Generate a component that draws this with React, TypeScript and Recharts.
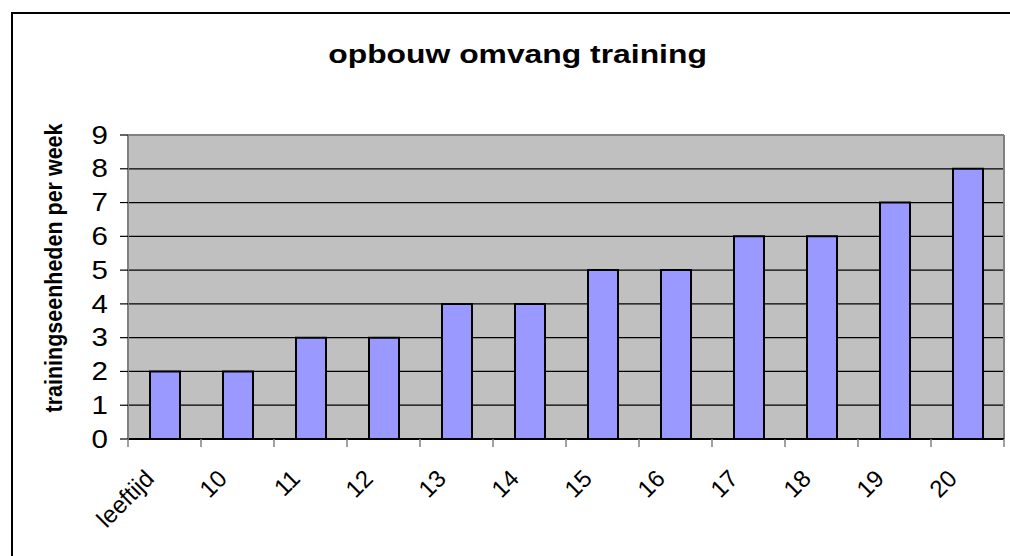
import { BarChart, Bar, XAxis, YAxis, CartesianGrid } from 'recharts';

const categories = ['leeftijd', '10', '11', '12', '13', '14', '15', '16', '17', '18', '19', '20'];
const trainingUnits = [2, 2, 3, 3, 4, 4, 5, 5, 6, 6, 7, 8];
const yTicks = [0, 1, 2, 3, 4, 5, 6, 7, 8, 9];

const data = categories.map((name, i) => ({ name, value: trainingUnits[i] }));

const W = 1010;
const H = 556;
const margin = { top: 135, right: 6, bottom: 0, left: 0 };
const xAxisHeight = 117;
const yAxisWidth = 128;
const band = (W - margin.left - margin.right - yAxisWidth) / categories.length;
const font = '"Liberation Sans", Arial, sans-serif';

function XTick(props: any) {
  const { x, y, payload, index } = props;
  const tx = x - 9;
  const ty = y + 41;
  const last = index === categories.length - 1;
  return (
    <g>
      <line x1={x - band / 2} y1={y} x2={x - band / 2} y2={y + 8} stroke="#808080" strokeWidth={1.5} />
      {last && <line x1={x + band / 2} y1={y} x2={x + band / 2} y2={y + 8} stroke="#808080" strokeWidth={1.5} />}
      <text
        x={tx}
        y={ty}
        textAnchor="end"
        fontSize={24}
        fontFamily={font}
        fill="#000"
        transform={`rotate(-45, ${tx}, ${ty})`}
      >
        {payload.value}
      </text>
    </g>
  );
}

function YTick(props: any) {
  const { x, y, payload } = props;
  return (
    <text
      transform={`translate(${x}, ${y}) scale(1.18, 1)`}
      x={0}
      y={0}
      textAnchor="end"
      dominantBaseline="central"
      fontSize={25}
      fontFamily={font}
      fill="#000"
    >
      {payload.value}
    </text>
  );
}

function YLabel() {
  const cy = 268;
  const cx = 62;
  return (
    <text
      x={0}
      y={0}
      textAnchor="middle"
      fontSize={21.5}
      fontWeight="bold"
      fontFamily={font}
      fill="#000"
      transform={`translate(${cx}, ${cy}) scale(1.12, 1) rotate(-90)`}
    >
      trainingseenheden per week
    </text>
  );
}

export default function App() {
  return (
    <div style={{ position: 'fixed', left: 0, top: 0, width: W, height: H, overflow: 'hidden', background: '#fff', fontFamily: font }}>
      <div
        style={{
          position: 'absolute',
          left: 11,
          top: 12,
          width: W,
          height: H,
          border: '2px solid #000',
        }}
      />
      <div
        style={{
          position: 'absolute',
          left: 0,
          width: 1036,
          top: 39,
          textAlign: 'center',
          lineHeight: '30px',
        }}
      >
        <span
          style={{
            display: 'inline-block',
            fontSize: 26,
            fontWeight: 'bold',
            color: '#000',
            transform: 'scaleX(1.225)',
          }}
        >
          opbouw omvang training
        </span>
      </div>
      <div style={{ position: 'absolute', left: 0, top: 0 }}>
        <BarChart width={W} height={H} data={data} margin={margin}>
          <CartesianGrid vertical={false} stroke="#000" strokeWidth={1.2} fill="#C0C0C0" fillOpacity={1} />
          <CartesianGrid
            stroke="#808080"
            strokeWidth={2}
            horizontalCoordinatesGenerator={({ offset }: any) => [offset.top]}
            verticalCoordinatesGenerator={({ offset }: any) => [offset.left + offset.width]}
          />
          <XAxis
            dataKey="name"
            interval={0}
            tickLine={false}
            tickSize={0}
            tickMargin={0}
            axisLine={{ stroke: '#000', strokeWidth: 2 }}
            tick={<XTick />}
            height={xAxisHeight}
          />
          <YAxis
            domain={[0, 9]}
            ticks={yTicks}
            interval={0}
            width={yAxisWidth}
            tickSize={8}
            tickMargin={12}
            tick={<YTick />}
            tickLine={{ stroke: '#000', strokeWidth: 1.2 }}
            axisLine={{ stroke: '#808080', strokeWidth: 2 }}
            label={{ content: <YLabel /> }}
          />
          <Bar dataKey="value" fill="#9999FF" stroke="#000" strokeWidth={2} barSize={30} isAnimationActive={false} />
        </BarChart>
      </div>
    </div>
  );
}
